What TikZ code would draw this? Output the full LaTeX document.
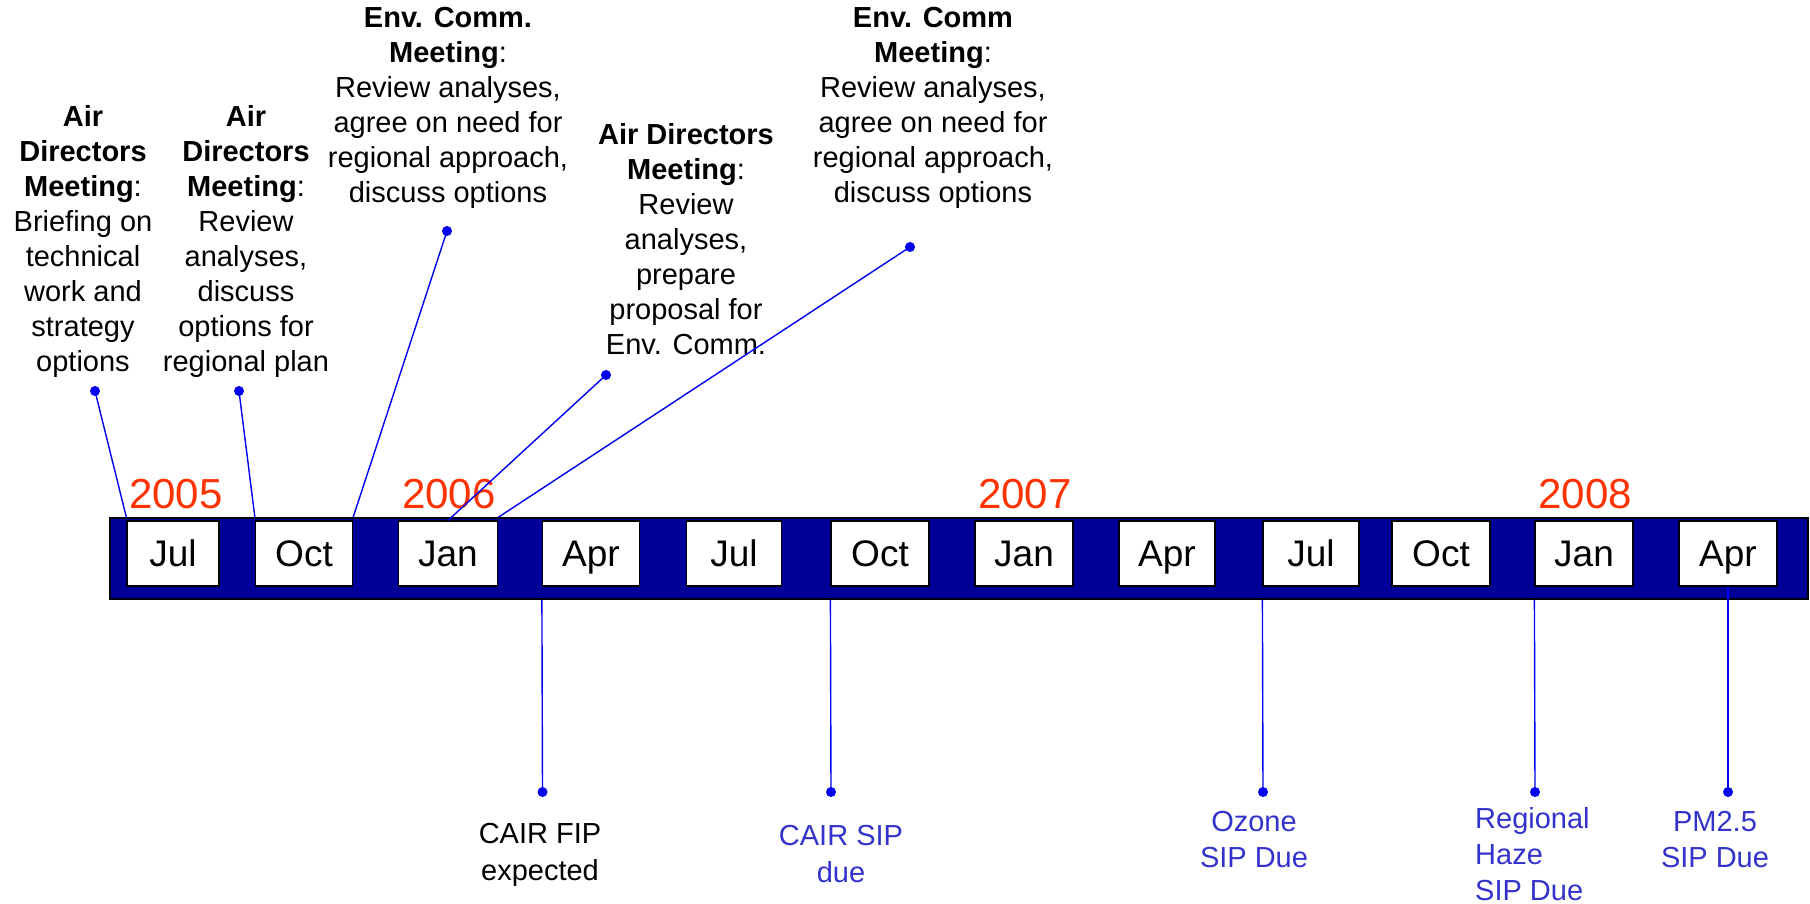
\documentclass[tikz,border=0pt]{standalone}
\usepackage{fontspec}
\setmainfont{Liberation Sans}
\definecolor{barblue}{HTML}{000099}
\definecolor{linkblue}{HTML}{0000F0}
\definecolor{labelblue}{HTML}{3333CC}
\definecolor{yearred}{HTML}{FF3300}
\tikzset{
  monthbox/.style={draw=black, line width=1.2pt, fill=white, minimum height=65pt, inner sep=0pt, text height=26.5pt, text depth=0pt, font=\fontsize{37}{40}\selectfont},
  yearlabel/.style={text=yearred, inner sep=0pt, font=\fontsize{42}{46}\selectfont},
  note/.style={align=center, inner sep=0pt, font=\fontsize{29}{35}\selectfont},
  duenote/.style={align=center, inner sep=0pt, text=labelblue, font=\fontsize{29}{36}\selectfont},
  link/.style={draw=linkblue, line width=1.4pt},
  pin/.style={circle, fill=linkblue, inner sep=0pt, minimum size=10pt}
}
\begin{document}
\begin{tikzpicture}[x=1pt,y=-1pt]
\useasboundingbox (0,0) rectangle (1810,903);
% bar
\node[draw=black, line width=1.2pt, fill=barblue, minimum width=1698pt, minimum height=81pt, inner sep=0pt] (bar) at (959,558.5) {};
% month boxes
\foreach \n/\x/\w/\t in {jul05/173/92/Jul, oct05/304/97/Oct, jan06/448/99/Jan, apr06/591/97/Apr,
  jul06/734/95/Jul, oct06/880/98/Oct, jan07/1024/98/Jan, apr07/1167/96/Apr,
  jul07/1311/96/Jul, oct07/1441/98/Oct, jan08/1584/98/Jan, apr08/1728/98/Apr}
  \node[monthbox, minimum width=\w pt] (\n) at (\x,553.5) {\t};
% years
\node[yearlabel] (y05) at (176,494) {2005};
\node[yearlabel] (y06) at (449,494) {2006};
\node[yearlabel] (y07) at (1025,494) {2007};
\node[yearlabel] (y08) at (1585,494) {2008};
% top notes
\node[note] (nA) at (83,241) {\textbf{Air}\\\textbf{Directors}\\\textbf{Meeting}:\\Briefing on\\technical\\work and\\strategy\\options};
\node[note] (nB) at (246,241) {\textbf{Air}\\\textbf{Directors}\\\textbf{Meeting}:\\Review\\analyses,\\discuss\\options for\\regional plan};
\node[note] (nC) at (448,108) {\textbf{Env. Comm.}\\\textbf{Meeting}:\\Review analyses,\\agree on need for\\regional approach,\\discuss options};
\node[note] (nD) at (686,239) {\textbf{Air Directors}\\\textbf{Meeting}:\\Review\\analyses,\\prepare\\proposal for\\Env. Comm.};
\node[note] (nE) at (933,108) {\textbf{Env. Comm}\\\textbf{Meeting}:\\Review analyses,\\agree on need for\\regional approach,\\discuss options};
% top pins
\node[pin] (pA) at (95,391) {};
\node[pin] (pB) at (239,391) {};
\node[pin] (pC) at (447,231) {};
\node[pin] (pD) at (606,375) {};
\node[pin] (pE) at (910,247) {};
\draw[link] (pA.center) -- (jul05.west |- bar.north);
\draw[link] (pB.center) -- (oct05.west |- bar.north);
\draw[link] (pC.center) -- (oct05.east |- bar.north);
\draw[link] (pD.center) -- (jan06.north);
\draw[link] (pE.center) -- (jan06.east |- bar.north);
% bottom pins
\node[pin] (pF) at (542.5,792) {};
\node[pin] (pG) at (831,792) {};
\node[pin] (pH) at (1263,792) {};
\node[pin] (pI) at (1535,792) {};
\node[pin] (pJ) at (1728,792) {};
\draw[link] (apr06.west |- bar.south) -- (pF.center);
\draw[link] (oct06.west |- bar.south) -- (pG.center);
\draw[link] (jul07.west |- bar.south) -- (pH.center);
\draw[link] (jan08.west |- bar.south) -- (pI.center);
\draw[link] (apr08.south) -- (pJ.center);
% bottom notes
\node[note, font=\fontsize{29}{37}\selectfont] (nF) at (540,854.5) {CAIR FIP\\expected};
\node[duenote, font=\fontsize{29}{37}\selectfont] (nG) at (841,854.5) {CAIR SIP\\due};
\node[duenote] (nH) at (1254,839.5) {Ozone\\SIP Due};
\node[duenote, align=left, anchor=west] (nI) at (1475,854) {Regional\\Haze\\SIP Due};
\node[duenote] (nJ) at (1715,839.5) {PM2.5\\SIP Due};
\end{tikzpicture}
\end{document}
